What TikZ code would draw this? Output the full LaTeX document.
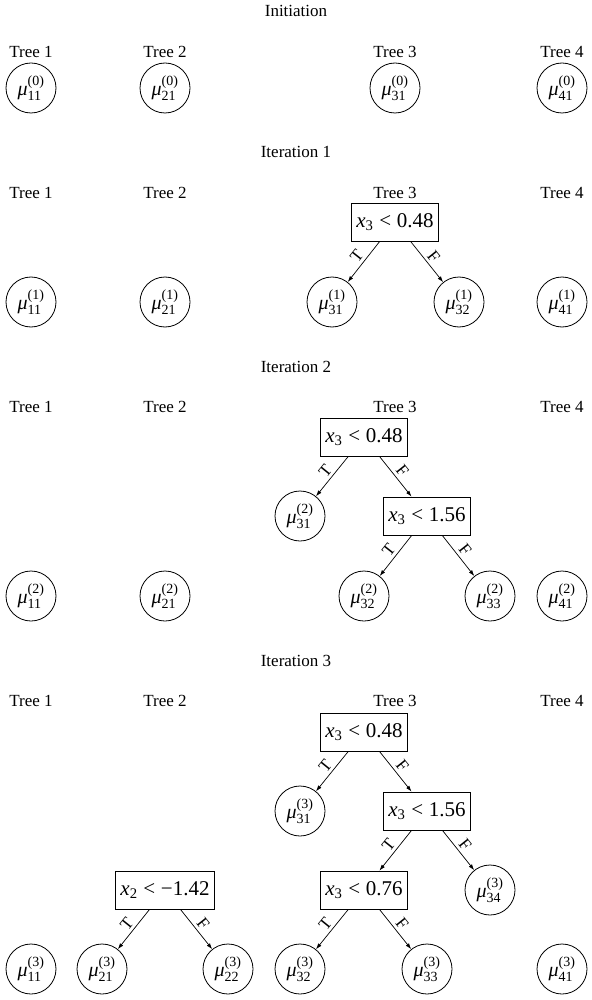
\documentclass[tikz,border=0pt]{standalone}
\usepackage{amsmath}
\usepackage{fontspec}
\setmainfont{Liberation Serif}
\usetikzlibrary{arrows.meta}
\newcommand\mym[2]{$\text{\itshape μ}_{\text{#1}}^{\text{(#2)}}$}
\newcommand\myx[2]{$\text{\itshape x}_{\text{#1}}\mathrel{\text{<}}\text{#2}$}
\begin{document}
\begin{tikzpicture}[x=1pt,y=-1pt,
  ttl/.style={font=\fontsize{17}{20}\selectfont},
  leaf/.style={circle,draw,line width=0.8pt,minimum size=50pt,inner sep=0pt,font=\fontsize{20}{24}\selectfont},
  split/.style={draw,line width=0.8pt,minimum height=38pt,inner xsep=5pt,font=\fontsize{21}{25}\selectfont},
  arr/.style={-{Latex[length=6pt,width=4pt]},line width=0.7pt},
  lab/.style={sloped,above,pos=0.5,font=\fontsize{17}{19}\selectfont,inner sep=3pt}]
\useasboundingbox (0,0) rectangle (591,1000);

% ---------------- Initiation
\node[ttl] (t0) at (296,11) {Initiation};
\node[ttl] (t0a) at (31,52) {Tree 1};
\node[ttl] (t0b) at (165,52) {Tree 2};
\node[ttl] (t0c) at (395,52) {Tree 3};
\node[ttl] (t0d) at (562,52) {Tree 4};
\node[leaf] (a11) at (31,88) {\mym{11}{0}};
\node[leaf] (a21) at (165,88) {\mym{21}{0}};
\node[leaf] (a31) at (395,88) {\mym{31}{0}};
\node[leaf] (a41) at (562,88) {\mym{41}{0}};

% ---------------- Iteration 1
\node[ttl] (t1) at (296,152) {Iteration 1};
\node[ttl] (t1a) at (31,193) {Tree 1};
\node[ttl] (t1b) at (165,193) {Tree 2};
\node[ttl] (t1c) at (395,193) {Tree 3};
\node[ttl] (t1d) at (562,193) {Tree 4};
\node[split] (b1a) at (395,222) {\myx{3}{0.48}};
\node[leaf] (b11) at (31,302) {\mym{11}{1}};
\node[leaf] (b21) at (165,302) {\mym{21}{1}};
\node[leaf] (b31) at (332,302) {\mym{31}{1}};
\node[leaf] (b32) at (459,302) {\mym{32}{1}};
\node[leaf] (b41) at (562,302) {\mym{41}{1}};
\draw[arr] (b1a) -- node[lab]{T} (b31);
\draw[arr] (b1a) -- node[lab]{F} (b32);

% ---------------- Iteration 2
\node[ttl] (t2) at (296,367) {Iteration 2};
\node[ttl] (t2a) at (31,407) {Tree 1};
\node[ttl] (t2b) at (165,407) {Tree 2};
\node[ttl] (t2c) at (395,407) {Tree 3};
\node[ttl] (t2d) at (562,407) {Tree 4};
\node[split] (c1a) at (364,437) {\myx{3}{0.48}};
\node[leaf] (c31) at (300,516) {\mym{31}{2}};
\node[split] (c1b) at (427,516) {\myx{3}{1.56}};
\node[leaf] (c11) at (31,596) {\mym{11}{2}};
\node[leaf] (c21) at (165,596) {\mym{21}{2}};
\node[leaf] (c32) at (364,596) {\mym{32}{2}};
\node[leaf] (c33) at (490,596) {\mym{33}{2}};
\node[leaf] (c41) at (562,596) {\mym{41}{2}};
\draw[arr] (c1a) -- node[lab]{T} (c31);
\draw[arr] (c1a) -- node[lab]{F} (c1b);
\draw[arr] (c1b) -- node[lab]{T} (c32);
\draw[arr] (c1b) -- node[lab]{F} (c33);

% ---------------- Iteration 3
\node[ttl] (t3) at (296,661) {Iteration 3};
\node[ttl] (t3a) at (31,701) {Tree 1};
\node[ttl] (t3b) at (165,701) {Tree 2};
\node[ttl] (t3c) at (395,701) {Tree 3};
\node[ttl] (t3d) at (562,701) {Tree 4};
\node[split] (d1a) at (364,732) {\myx{3}{0.48}};
\node[leaf] (d31) at (300,811) {\mym{31}{3}};
\node[split] (d1b) at (427,811) {\myx{3}{1.56}};
\node[split] (d1c) at (364,890) {\myx{3}{0.76}};
\node[leaf] (d34) at (490,890) {\mym{34}{3}};
\node[split] (d2a) at (165,890) {\myx{2}{−1.42}};
\node[leaf] (d11) at (31,969) {\mym{11}{3}};
\node[leaf] (d21) at (102,969) {\mym{21}{3}};
\node[leaf] (d22) at (228,969) {\mym{22}{3}};
\node[leaf] (d32) at (300,969) {\mym{32}{3}};
\node[leaf] (d33) at (427,969) {\mym{33}{3}};
\node[leaf] (d41) at (562,969) {\mym{41}{3}};
\draw[arr] (d1a) -- node[lab]{T} (d31);
\draw[arr] (d1a) -- node[lab]{F} (d1b);
\draw[arr] (d1b) -- node[lab]{T} (d1c);
\draw[arr] (d1b) -- node[lab]{F} (d34);
\draw[arr] (d1c) -- node[lab]{T} (d32);
\draw[arr] (d1c) -- node[lab]{F} (d33);
\draw[arr] (d2a) -- node[lab]{T} (d21);
\draw[arr] (d2a) -- node[lab]{F} (d22);
\end{tikzpicture}
\end{document}
